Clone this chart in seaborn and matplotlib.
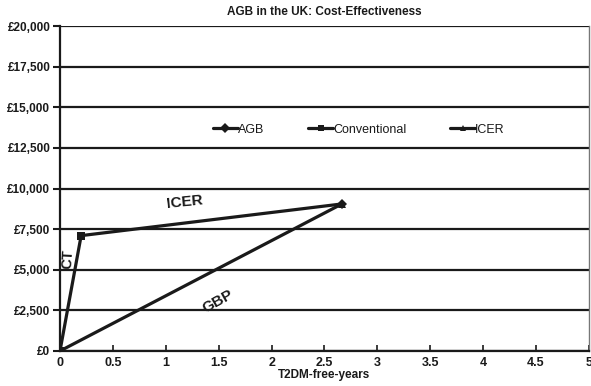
import matplotlib
matplotlib.use("Agg")
import matplotlib.pyplot as plt
import seaborn as sns
import pandas as pd
from matplotlib.ticker import FuncFormatter

sns.set_theme(style="white")
plt.rcParams['font.family'] = ['Liberation Sans', 'DejaVu Sans']

# Data
agb_x = [0, 2.665]
agb_y = [0, 9050]
conv_x = [0, 0.2]
conv_y = [0, 7100]
icer_x = [0.2, 2.665]
icer_y = [7100, 9050]
series_names = ["AGB", "Conventional", "ICER"]
x_ticks = [0, 0.5, 1, 1.5, 2, 2.5, 3, 3.5, 4, 4.5, 5]
y_ticks = [0, 2500, 5000, 7500, 10000, 12500, 15000, 17500, 20000]

df = pd.DataFrame({
    "x": agb_x + conv_x + icer_x,
    "y": agb_y + conv_y + icer_y,
    "series": [series_names[0]] * 2 + [series_names[1]] * 2 + [series_names[2]] * 2,
})

fig = plt.figure(figsize=(5.91, 3.86), dpi=100)
ax = fig.add_axes([0.1015, 0.0907, 0.895, 0.8419])

for yv in y_ticks:
    ax.axhline(yv, color="#1a1a1a", lw=1.6, zorder=1)

sns.lineplot(data=df, x="x", y="y", hue="series", style="series",
             palette=["#1a1a1a"] * 3, markers={"AGB": "D", "Conventional": "s", "ICER": "^"},
             dashes=False, markersize=5.5, linewidth=2.3, ax=ax, zorder=3,
             markeredgewidth=0, sort=False)

ax.set_xlim(0, 5)
ax.set_ylim(0, 20000)
ax.set_xticks(x_ticks)
ax.set_xticklabels([("%g" % v) for v in x_ticks])
ax.set_yticks(y_ticks)
ax.yaxis.set_major_formatter(FuncFormatter(lambda v, p: "£{:,.0f}".format(v)))
for lab in ax.get_yticklabels():
    lab.set_fontweight("bold")
    lab.set_fontsize(8.5)
    lab.set_color("#1a1a1a")
for lab in ax.get_xticklabels():
    lab.set_fontweight("bold")
    lab.set_fontsize(9)
    lab.set_color("#1a1a1a")
ax.tick_params(axis="y", direction="out", length=5, width=1.5, color="#1a1a1a", pad=2, left=True)
ax.tick_params(axis="x", direction="in", length=4, width=1.2, color="#1a1a1a", pad=4, bottom=True)

ax.set_xlabel("T2DM-free-years", fontsize=8.5, fontweight="bold", labelpad=0.5, color="#1a1a1a")
ax.set_ylabel("")
ax.set_title("AGB in the UK: Cost-Effectiveness", fontsize=8.5, fontweight="bold", pad=8, color="#1a1a1a")

for s in ["left", "bottom"]:
    ax.spines[s].set_color("#1a1a1a")
    ax.spines[s].set_linewidth(1.6)
ax.spines["top"].set_visible(False)
ax.spines["right"].set_color("#777777")
ax.spines["right"].set_linewidth(1.0)

leg = ax.legend(loc="center", bbox_to_anchor=(0.565, 0.681), ncol=3, frameon=False,
                fontsize=9, handlelength=2.0, handletextpad=0.0, columnspacing=3.5,
                markerscale=0.9)
for t in leg.get_texts():
    t.set_color("#1a1a1a")

ax.text(1.18, 9150, "ICER", fontsize=11, fontweight="bold", rotation=6, ha="center", va="center", color="#1a1a1a")
ax.text(0.071, 5660, "CT", fontsize=10.5, fontweight="bold", rotation=87, ha="center", va="center", color="#1a1a1a")
ax.text(1.49, 3015, "GBP", fontsize=11, fontweight="bold", rotation=29, ha="center", va="center", color="#1a1a1a")

fig.savefig("out.png", dpi=100)
